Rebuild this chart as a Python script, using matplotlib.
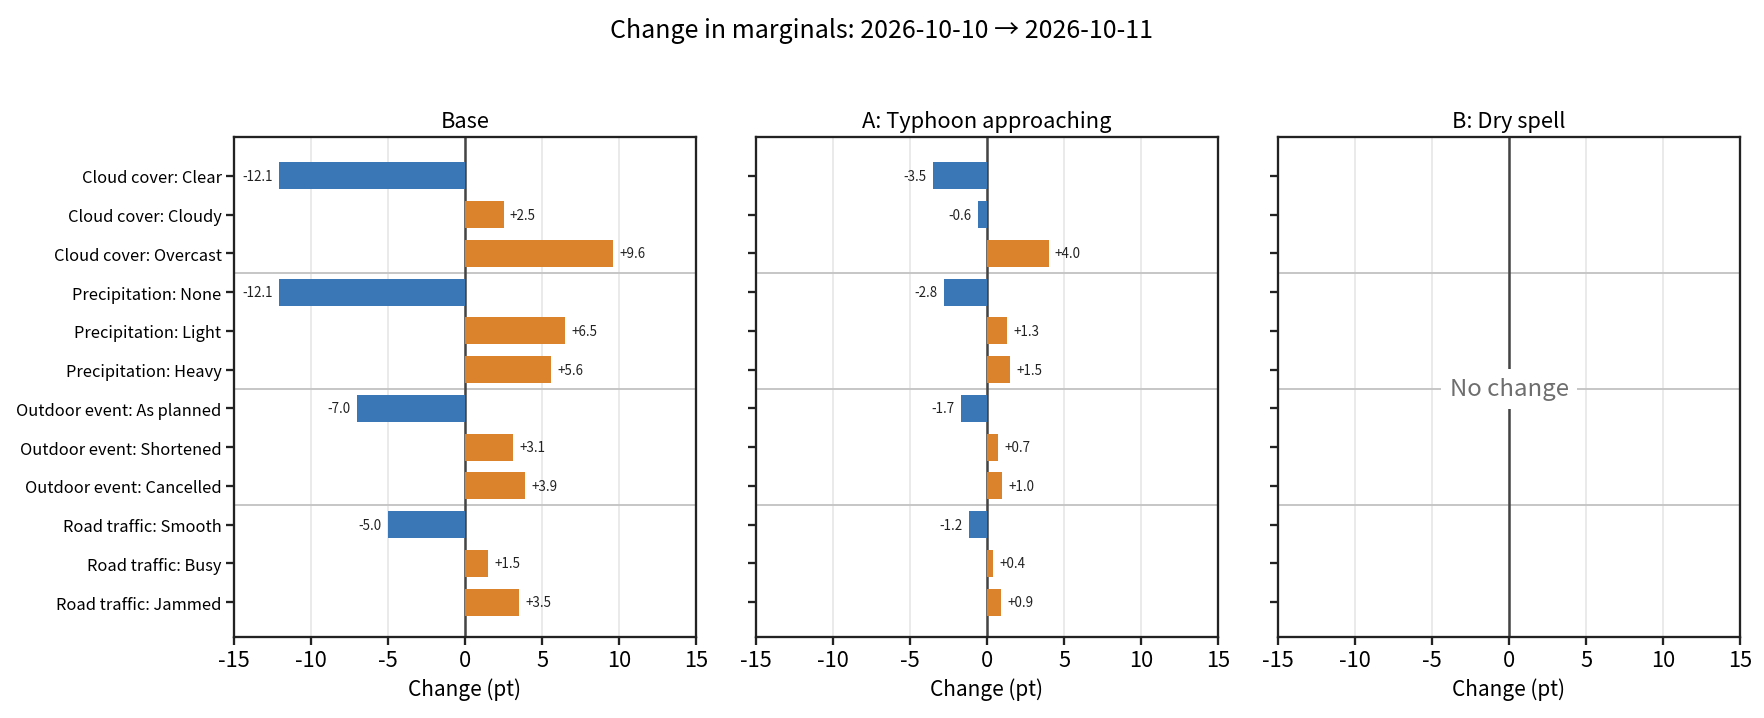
import matplotlib
matplotlib.use("Agg")
from matplotlib import pyplot as plt

plt.rcParams['font.family'] = ['Noto Sans CJK JP', 'DejaVu Sans']
plt.rcParams['axes.unicode_minus'] = False

# data
categories = [
    "Cloud cover: Clear", "Cloud cover: Cloudy", "Cloud cover: Overcast",
    "Precipitation: None", "Precipitation: Light", "Precipitation: Heavy",
    "Outdoor event: As planned", "Outdoor event: Shortened", "Outdoor event: Cancelled",
    "Road traffic: Smooth", "Road traffic: Busy", "Road traffic: Jammed",
]
group_breaks = [2.5, 5.5, 8.5]
panel_titles = ["Base", "A: Typhoon approaching", "B: Dry spell"]
base_change = [-12.1, 2.5, 9.6, -12.1, 6.5, 5.6, -7.0, 3.1, 3.9, -5.0, 1.5, 3.5]
typhoon_change = [-3.5, -0.6, 4.0, -2.8, 1.3, 1.5, -1.7, 0.7, 1.0, -1.2, 0.4, 0.9]
dry_change = [0.0] * 12
x_ticks = [-15, -10, -5, 0, 5, 10, 15]

neg_color = "#3a77b6"
pos_color = "#da822c"

fig = plt.figure(figsize=(11.76, 4.793), dpi=150)
lefts = [234 / 1764, 756 / 1764, 1278 / 1764]
width = 462 / 1764
bottom = 1 - 638 / 719
height = 500 / 719

for i, (title, vals) in enumerate(zip(panel_titles, [base_change, typhoon_change, dry_change])):
    ax = fig.add_axes([lefts[i], bottom, width, height])
    ys = list(range(len(categories)))
    ax.set_xlim(-15, 15)
    ax.set_ylim(11.9, -1)
    ax.set_xticks(x_ticks)
    ax.set_xticklabels([str(t) for t in x_ticks], fontsize=10.5)
    ax.grid(axis="x", color="#e6e6e6", lw=0.8, zorder=0)
    ax.set_axisbelow(True)
    for b in group_breaks:
        ax.axhline(b, color="#c4c4c4", lw=0.9, zorder=1)
    ax.axvline(0, color="#444444", lw=1.2, zorder=2)

    if any(v != 0 for v in vals):
        colors = [pos_color if v > 0 else neg_color for v in vals]
        ax.barh(ys, vals, height=0.7, color=colors, zorder=3)
        for y, v in zip(ys, vals):
            if v > 0:
                ax.annotate(f"+{v:.1f}", (v, y), xytext=(3, 0), textcoords="offset points",
                            ha="left", va="center", fontsize=6.4, color="#222222")
            else:
                ax.annotate(f"{v:.1f}", (v, y), xytext=(-3, 0), textcoords="offset points",
                            ha="right", va="center", fontsize=6.4, color="#222222")
    else:
        ax.text(0, 5.5, "No change", ha="center", va="center", fontsize=11.5, color="#6e6e6e",
                bbox=dict(facecolor="white", edgecolor="none", pad=4), zorder=5)

    ax.set_yticks(ys)
    if i == 0:
        ax.set_yticklabels(categories, fontsize=7.9)
    else:
        ax.set_yticklabels([])
    ax.set_title(title, fontsize=10.5, pad=5)
    ax.set_xlabel("Change (pt)", fontsize=10, labelpad=3)
    for s in ax.spines.values():
        s.set_color("#222222")
        s.set_linewidth(1.1)
    ax.tick_params(axis="both", color="#222222", width=1.1, length=4, pad=2)

fig.suptitle("Change in marginals: 2026-10-10 \u2192 2026-10-11", fontsize=12, y=0.975)

plt.savefig("out.png", dpi=150)
